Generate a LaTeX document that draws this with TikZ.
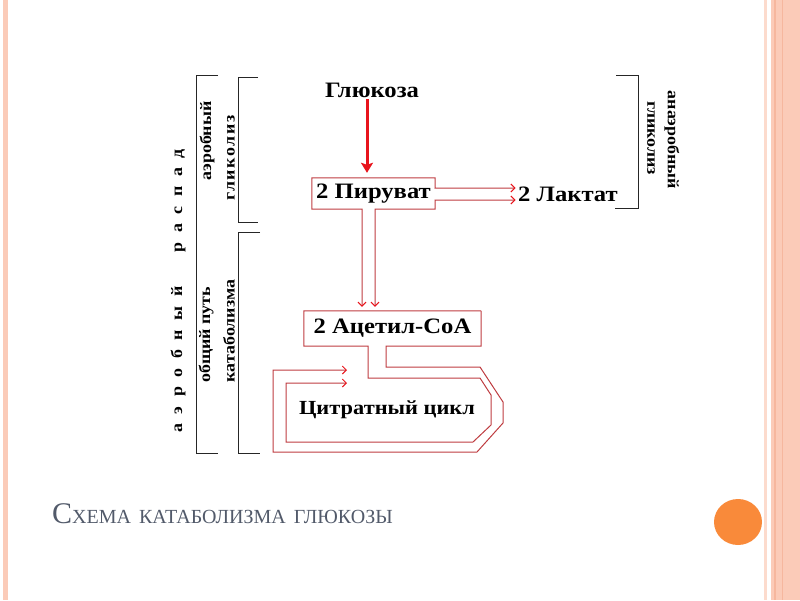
\documentclass[tikz,border=0pt]{standalone}
\usepackage{fontspec}
\usetikzlibrary{arrows.meta}
\newfontfamily\diafont[FakeStretch=1.12]{Liberation Serif}
\newfontfamily\titlefont{Liberation Serif}
\definecolor{pipered}{HTML}{BE3C40}
\definecolor{arrowred}{HTML}{E8141C}
\definecolor{slidepink}{HTML}{FBCBB8}
\definecolor{slidedark}{HTML}{F6B79E}
\definecolor{slideorange}{HTML}{F98A3A}
\definecolor{titlegrey}{HTML}{525A6A}

\begin{document}
\begin{tikzpicture}[x=1pt,y=-1pt,
  lbl/.style={font=\diafont\bfseries\fontsize{22}{26}\selectfont,inner sep=1.5pt},
  side/.style={font=\diafont\bfseries\fontsize{16}{18}\selectfont,inner sep=1pt},
  pipe/.style={draw=pipered,line width=1pt},
  barb/.tip={Straight Barb[length=4pt,width=8pt,color=arrowred]},
  brace/.style={draw=black!85,line width=0.8pt}]
\useasboundingbox (0,0) rectangle (800,600);
% slide frame
\fill[slidepink] (3,0) rectangle (8,600);
\fill[slidepink!70] (764,0) rectangle (767,600);
\fill[slidepink] (771,0) rectangle (800,600);
\draw[slidedark,line width=1.5pt] (775,0) -- (775,600);
\draw[slidedark,line width=1pt] (782,0) -- (782,600);
\fill[slideorange] (738,522) ellipse [x radius=24,y radius=23];
\path node (ttl) at (52,523) [anchor=base west,inner sep=0pt,text=titlegrey]
  {\titlefont\fontsize{30}{30}\selectfont С\fontsize{20}{20}\selectfont ХЕМА\hspace{3pt} КАТАБОЛИЗМА\hspace{3pt} ГЛЮКОЗЫ};
% nodes
\path node (glc) at (372,90) [lbl] {Глюкоза}
node (pyr) at (373.5,193.5) [lbl,minimum width=123pt,minimum height=31pt,inner sep=0pt] {2 Пируват}
node (lac) at (568,194) [lbl] {2 Лактат}
node (aca) at (392.5,328.5) [lbl,minimum width=177pt,minimum height=35pt,inner sep=0pt] {2 Ацетил-СоА}
node (cyc) at (387,410) [lbl,font=\diafont\bfseries\fontsize{20}{24}\selectfont] {Цитратный цикл};
% side labels
\path node (aer) at (178,291) [side,rotate=90] {\addfontfeature{LetterSpace=60}аэробный\hspace{20pt} распад}
node (aeg) at (207,141) [side,rotate=90] {аэробный}
node (gl1) at (231,158) [side,rotate=90] {\addfontfeature{LetterSpace=10}гликолиз}
node (com) at (206,335) [side,rotate=90] {общий путь}
node (kat) at (229,331) [side,rotate=90] {катаболизма}
node (gl2) at (651,138) [side,rotate=-90] {гликолиз}
node (ana) at (672,140) [side,rotate=-90] {анаэробный};
% brackets
\draw[brace] (218,75) -- (196,75) -- (196,453) -- (218,453);
\draw[brace] (258,77) -- (238,77) -- (238,222) -- (258,222);
\draw[brace] (260,232) -- (238,232) -- (238,453) -- (260,453);
\draw[brace] (616,75) -- (638,75) -- (638,208) -- (615,208);
% arrows
\draw[arrowred,line width=3pt,-{Stealth[length=10pt,width=12pt,inset=2pt]},shorten >=5pt]
  (367,0 |- glc.south) -- (367,0 |- pyr.north);
\draw[pipe,barb-barb,shorten <=4pt,shorten >=1pt] (362,0 |- aca.north) -- (362,209) -- (pyr.south west)
  -- (pyr.north west) -- (pyr.north east) -- (435,188) -- (lac.west |- 0,188);
\draw[pipe,barb-barb,shorten <=4pt,shorten >=1pt] (375,0 |- aca.north) -- (375,209) -- (pyr.south east)
  -- (435,200) -- (lac.west |- 0,200);
\draw[pipe,-barb] (aca.north east) -- (aca.north west) -- (aca.south west) -- (368,346) -- (368,378)
  -- (480,378) -- (491,395) -- (491,425) -- (473,442) -- (286,442) -- (286,383) -- (347,383);
\draw[pipe,-barb] (aca.north east) -- (aca.south east) -- (386,346) -- (386,367) -- (480,367)
  -- (503,402) -- (503,423) -- (477,452) -- (273,452) -- (273,370) -- (347,370);
\end{tikzpicture}
\end{document}
